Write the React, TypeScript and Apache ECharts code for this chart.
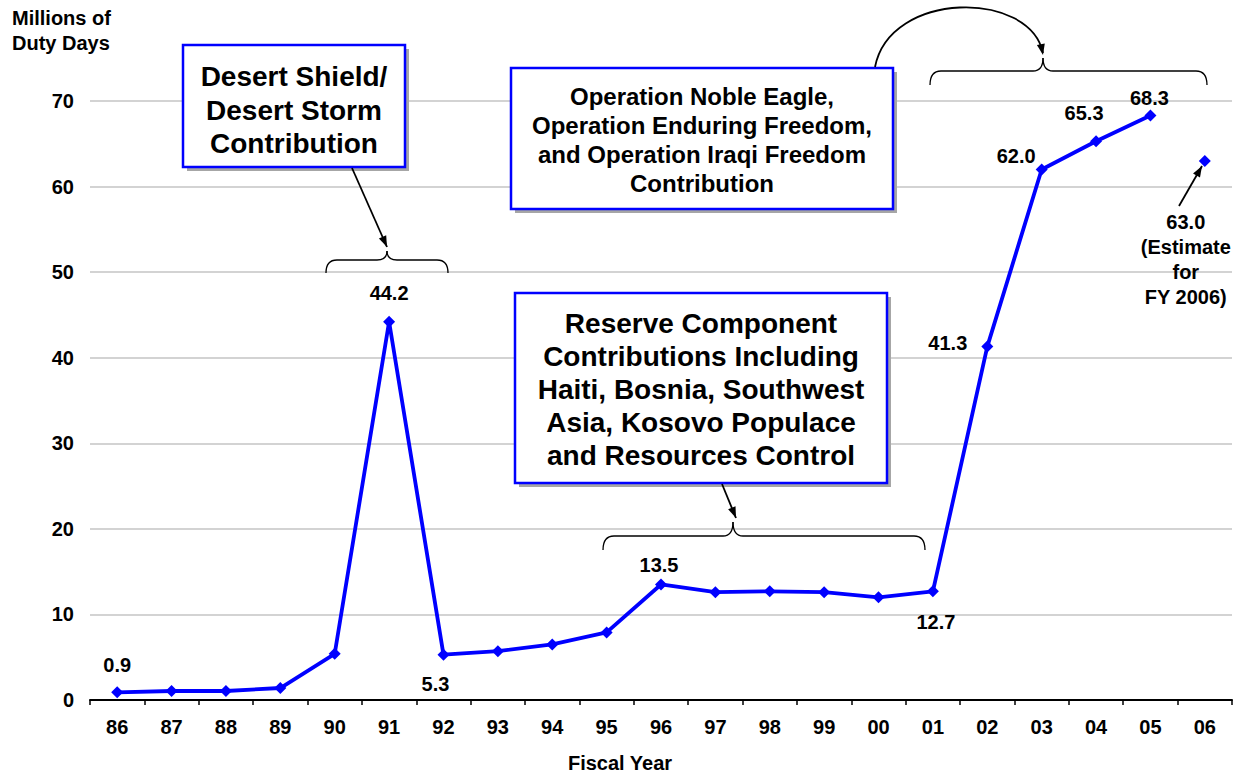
import React, { useEffect, useRef } from "react";
import * as echarts from "echarts";

// ---------- data ----------
const fiscalYears = ["86", "87", "88", "89", "90", "91", "92", "93", "94", "95", "96", "97", "98", "99", "00", "01", "02", "03", "04", "05", "06"];
const dutyDays: (number | null)[] = [0.9, 1.05, 1.05, 1.4, 5.4, 44.2, 5.3, 5.7, 6.5, 7.9, 13.5, 12.6, 12.7, 12.6, 12.0, 12.7, 41.3, 62.0, 65.3, 68.3, null];
const estimateDays: (number | null)[] = [null, null, null, null, null, null, null, null, null, null, null, null, null, null, null, null, null, null, null, null, 63.0];
const yMin = 0;
const yMax = 70;
const yStep = 10;
const labeledIndices = [0, 5, 6, 10, 15, 16, 17, 18, 19];
const estimateNote = "(Estimate\nfor\nFY 2006)";
const yTitle = "Millions of\nDuty Days";
const xTitle = "Fiscal Year";
const desertText = "Desert Shield/\nDesert Storm\nContribution";
const nobleText = "Operation Noble Eagle,\nOperation Enduring Freedom,\nand Operation Iraqi Freedom\nContribution";
const reserveText = "Reserve Component\nContributions Including\nHaiti, Bosnia, Southwest\nAsia, Kosovo Populace\nand Resources Control";

// ---------- styling ----------
const FONT = "'Liberation Sans', Arial, Helvetica, sans-serif";
const BLUE = "#0000ff";

const labelPlacement: Record<number, { position: string; offset: number[] }> = {
  0: { position: "top", offset: [0, -6] },
  5: { position: "top", offset: [0, -8] },
  6: { position: "bottom", offset: [-8, 8] },
  10: { position: "top", offset: [-2, 2] },
  15: { position: "bottom", offset: [3, 10] },
  16: { position: "left", offset: [-9, -4] },
  17: { position: "left", offset: [5, -13] },
  18: { position: "top", offset: [-12, -7] },
  19: { position: "top", offset: [-1, 3] },
};

function box(x: number, y: number, w: number, h: number, text: string, cx: number, cy: number, fontSize: number, lineHeight: number) {
  return [
    { type: "rect", z: 100, shape: { x: x + 4, y: y + 4, width: w, height: h }, style: { fill: "#a6a6a6" } },
    { type: "rect", z: 101, shape: { x, y, width: w, height: h }, style: { fill: "#ffffff", stroke: BLUE, lineWidth: 2.5 } },
    {
      type: "text",
      z: 102,
      x: cx,
      y: cy,
      style: {
        text,
        fill: "#000",
        font: `bold ${fontSize}px ${FONT}`,
        fontFamily: FONT,
        fontWeight: "bold",
        fontSize,
        lineHeight,
        align: "center",
        verticalAlign: "middle",
      },
    },
  ];
}

function brace(x0: number, x1: number, xc: number, yb: number, yt: number, yc: number) {
  const r = 11;
  const rc = 10;
  const st = { stroke: "#000", lineWidth: 1.3, fill: null as any };
  return [
    { type: "bezierCurve", z: 100, shape: { x1: x0, y1: yb, cpx1: x0, cpy1: yt, x2: x0 + r, y2: yt }, style: st },
    { type: "line", z: 100, shape: { x1: x0 + r, y1: yt, x2: xc - rc, y2: yt }, style: st },
    { type: "bezierCurve", z: 100, shape: { x1: xc - rc, y1: yt, cpx1: xc, cpy1: yt, x2: xc, y2: yc }, style: st },
    { type: "bezierCurve", z: 100, shape: { x1: xc, y1: yc, cpx1: xc, cpy1: yt, x2: xc + rc, y2: yt }, style: st },
    { type: "line", z: 100, shape: { x1: xc + rc, y1: yt, x2: x1 - r, y2: yt }, style: st },
    { type: "bezierCurve", z: 100, shape: { x1: x1 - r, y1: yt, cpx1: x1, cpy1: yt, x2: x1, y2: yb }, style: st },
  ];
}

function head(fromX: number, fromY: number, tipX: number, tipY: number) {
  const dx = tipX - fromX;
  const dy = tipY - fromY;
  const len = Math.sqrt(dx * dx + dy * dy);
  const ux = dx / len;
  const uy = dy / len;
  const L = 11;
  const W = 4;
  const bx = tipX - ux * L;
  const by = tipY - uy * L;
  return {
    type: "polygon",
    z: 103,
    shape: { points: [[tipX, tipY], [bx - uy * W, by + ux * W], [bx + uy * W, by - ux * W]] },
    style: { fill: "#000" },
  };
}

function arrow(x1: number, y1: number, x2: number, y2: number) {
  return [
    { type: "line", z: 103, shape: { x1, y1, x2, y2 }, style: { stroke: "#000", lineWidth: 1.8 } },
    head(x1, y1, x2, y2),
  ];
}

const graphics: any[] = [
  {
    type: "text",
    x: 12,
    y: 5,
    style: { text: yTitle, fill: "#000", font: `bold 20px ${FONT}`, fontFamily: FONT, fontWeight: "bold", fontSize: 20, lineHeight: 25, align: "left", verticalAlign: "top" },
  },
  {
    type: "text",
    x: 620,
    y: 763,
    style: { text: xTitle, fill: "#000", font: `bold 20px ${FONT}`, fontFamily: FONT, fontWeight: "bold", fontSize: 20, align: "center", verticalAlign: "middle" },
  },
  ...box(183, 45, 222, 122, desertText, 294, 110, 28, 33.5),
  ...box(511, 68, 382, 141, nobleText, 702, 140, 24, 28.7),
  ...box(515, 293, 372, 190, reserveText, 701, 389, 28, 33),
  ...brace(326, 448, 387, 273, 260, 251),
  ...brace(603, 925, 733, 550, 536, 522),
  ...brace(930, 1207, 1043, 85, 71, 58),
  ...arrow(352, 168, 387, 247),
  ...arrow(722, 484, 736, 518),
  ...arrow(1179, 206, 1202, 166),
  {
    type: "bezierCurve",
    z: 103,
    shape: { x1: 875, y1: 67, cpx1: 890, cpy1: -10, cpx2: 1030, cpy2: -10, x2: 1043, y2: 53 },
    style: { stroke: "#000", lineWidth: 1.8, fill: null },
  },
  head(1030, -10, 1043, 55),
];

const labelBase = {
  show: true,
  color: "#000",
  fontFamily: FONT,
  fontWeight: "bold",
  fontSize: 20,
};

const mainData = dutyDays.map((v, i) => {
  if (!labeledIndices.includes(i)) return v;
  const p = labelPlacement[i];
  return {
    value: v,
    label: { ...labelBase, position: p.position, offset: p.offset, formatter: (prm: any) => Number(prm.value).toFixed(1) },
  };
});

const estimateData = estimateDays.map((v) =>
  v == null
    ? v
    : {
        value: v,
        label: {
          ...labelBase,
          position: "bottom",
          offset: [-19, 38],
          lineHeight: 25,
          align: "center",
          formatter: (prm: any) => Number(prm.value).toFixed(1) + "\n" + estimateNote,
        },
      }
);

const option: any = {
  animation: false,
  backgroundColor: "#ffffff",
  grid: { left: 90, right: 6, top: 101, bottom: 74, containLabel: false, outerBoundsMode: "none" },
  xAxis: {
    type: "category",
    data: fiscalYears,
    boundaryGap: true,
    axisLine: { show: true, lineStyle: { color: "#000", width: 2 } },
    axisTick: { show: true, length: 5, lineStyle: { color: "#000", width: 1.5 } },
    axisLabel: { color: "#000", fontFamily: FONT, fontWeight: "bold", fontSize: 20, margin: 17 },
    splitLine: { show: false },
  },
  yAxis: {
    type: "value",
    min: yMin,
    max: yMax,
    interval: yStep,
    axisLine: { show: false },
    axisTick: { show: false },
    axisLabel: { color: "#000", fontFamily: FONT, fontWeight: "bold", fontSize: 20, margin: 16 },
    splitLine: { show: true, lineStyle: { color: "#c4c4c4", width: 1.5 } },
  },
  series: [
    {
      type: "line",
      data: mainData,
      symbol: "diamond",
      symbolSize: 12,
      connectNulls: false,
      itemStyle: { color: BLUE },
      lineStyle: { color: BLUE, width: 3.8 },
      label: { show: false },
      z: 5,
    },
    {
      type: "line",
      data: estimateData,
      symbol: "diamond",
      symbolSize: 12,
      itemStyle: { color: BLUE },
      lineStyle: { color: BLUE, width: 3.8 },
      label: { show: false },
      z: 5,
    },
  ],
  graphic: graphics,
};

export default function App() {
  const ref = useRef<HTMLDivElement>(null);
  useEffect(() => {
    const chart = echarts.init(ref.current!, null, { renderer: "svg" });
    chart.setOption(option);
    return () => chart.dispose();
  }, []);
  return (
    <div
      ref={ref}
      style={{ position: "fixed", left: 0, top: 0, width: 1238, height: 774, background: "#fff" }}
    />
  );
}
